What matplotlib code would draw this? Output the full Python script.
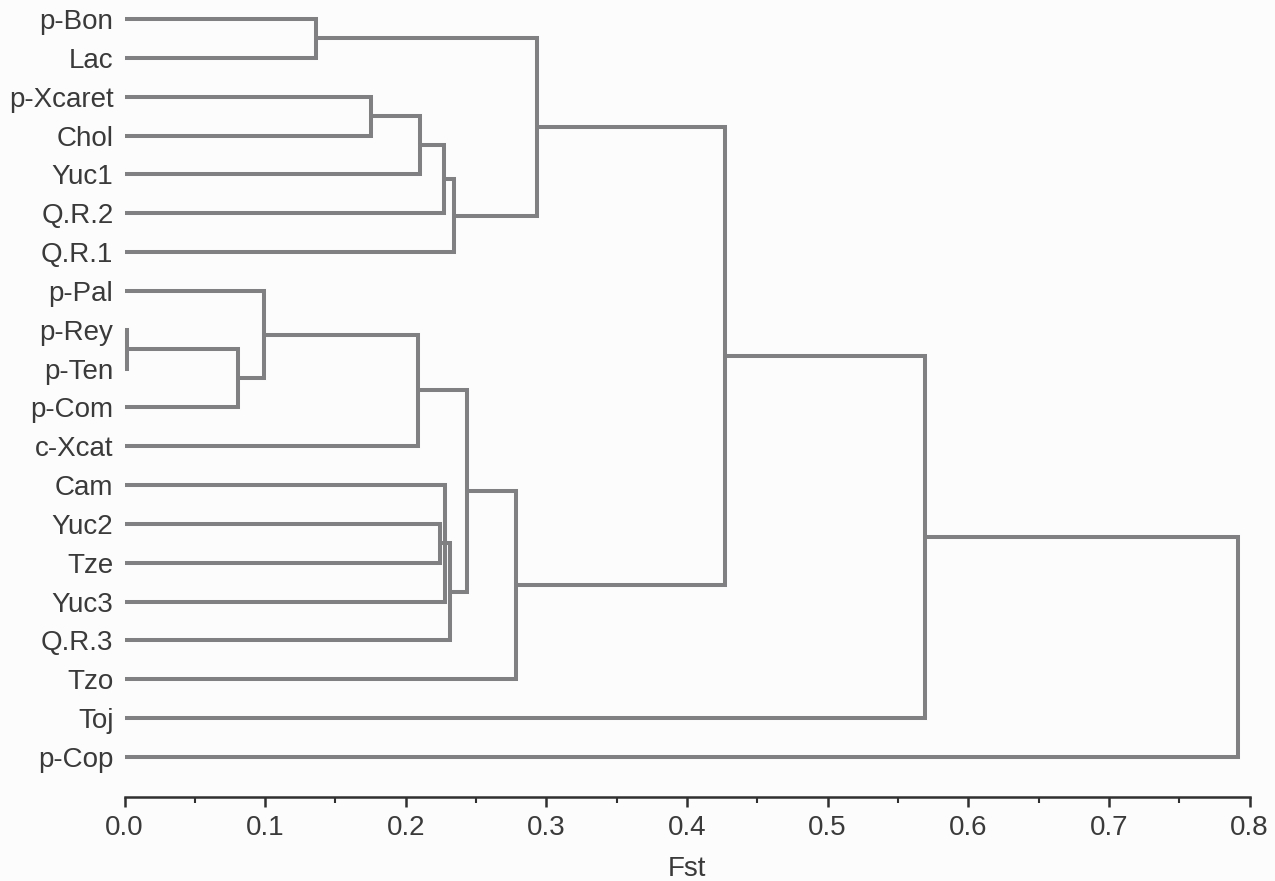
import matplotlib.pyplot as plt
from matplotlib.ticker import MultipleLocator
import numpy as np

# Data
labels = ["p-Bon", "Lac", "p-Xcaret", "Chol", "Yuc1", "Q.R.2", "Q.R.1",
          "p-Pal", "p-Rey", "p-Ten", "p-Com", "c-Xcat", "Cam", "Yuc2",
          "Tze", "Yuc3", "Q.R.3", "Tzo", "Toj", "p-Cop"]

# merges: children (leaf index or 20+ for earlier merge) and Fst height
merge_children = [(0, 1), (2, 3), (21, 4), (22, 5), (23, 6), (20, 24),
                  (8, 9), (26, 10), (7, 27), (28, 11),
                  (13, 14), (12, 30, 15), (31, 16), (29, 32), (33, 17),
                  (25, 34), (35, 18), (36, 19)]
merge_heights = [0.136, 0.175, 0.210, 0.227, 0.234, 0.293,
                 0.002, 0.081, 0.099, 0.209,
                 0.224, 0.228, 0.2315, 0.2435, 0.2785,
                 0.427, 0.569, 0.792]

line_color = "#808083"
text_color = "#3a3a3a"

plt.rcParams['font.family'] = ['Liberation Sans', 'DejaVu Sans']

fig = plt.figure(figsize=(12.75, 8.81), dpi=100, facecolor="#fcfcfc")
ax = fig.add_axes([124.5/1275, 1-797/881, 1125/1275, 797/881])
ax.set_facecolor("#fcfcfc")

# node positions: leaves on x=0, merges at their height, y = mean of children
n = len(labels)
node_x = {i: 0.0 for i in range(n)}
node_y = {i: float(i) for i in range(n)}

for k, (children, h) in enumerate(zip(merge_children, merge_heights)):
    ys = [node_y[c] for c in children]
    order = np.argsort(ys)
    first = children[order[0]]
    last = children[order[-1]]
    # U shape between the outer children
    ax.plot([node_x[first], h, h, node_x[last]],
            [node_y[first], node_y[first], node_y[last], node_y[last]],
            color=line_color, lw=2.9, solid_joinstyle="miter",
            solid_capstyle="butt", clip_on=False)
    # inner children (polytomy)
    for c in children:
        if c not in (first, last):
            ax.plot([node_x[c], h], [node_y[c], node_y[c]], color=line_color,
                    lw=2.9, solid_capstyle="butt", clip_on=False)
    node_x[n + k] = h
    node_y[n + k] = np.mean(ys)

# Axes
ax.set_xlim(0, 0.8)
ax.set_ylim(n - 1 + 40/38.84, -0.49)
ax.set_yticks(range(n))
ax.set_yticklabels(labels, fontsize=20, color=text_color)
ax.tick_params(axis="y", length=0, pad=8)

ax.xaxis.set_major_locator(MultipleLocator(0.1))
ax.xaxis.set_minor_locator(MultipleLocator(0.05))
ax.xaxis.set_major_formatter(lambda v, p: f"{v:.1f}")
ax.tick_params(axis="x", which="major", length=7, width=1.8, labelsize=20,
               labelcolor=text_color, pad=6, color="#303030")
ax.tick_params(axis="x", which="minor", length=4, width=1.5, color="#303030")
ax.set_xlabel("Fst", fontsize=20, color=text_color, labelpad=11)

for s in ["top", "right", "left"]:
    ax.spines[s].set_visible(False)
ax.spines["bottom"].set_linewidth(1.8)
ax.spines["bottom"].set_color("#303030")

fig.savefig("out.png", dpi=100, facecolor=fig.get_facecolor())
